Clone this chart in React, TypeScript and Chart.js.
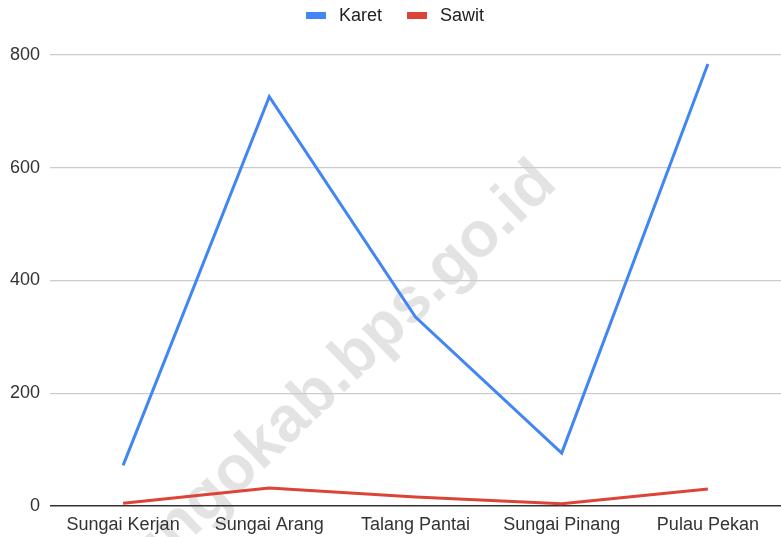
import React, { useEffect, useRef } from "react";
import { Chart, registerables } from "chart.js";

Chart.register(...registerables);

const categories = ["Sungai Kerjan", "Sungai Arang", "Talang Pantai", "Sungai Pinang", "Pulau Pekan"];
const karet = [72, 726, 335, 94, 784];
const sawit = [5, 32, 16, 4, 30];
const yTicks = [0, 200, 400, 600, 800];
const watermarkText = "bungokab.bps.go.id";

const FONT = "Arial, 'Liberation Sans', sans-serif";

const watermark = {
  id: "watermark",
  beforeDraw(chart: any) {
    const ctx = chart.ctx;
    ctx.save();
    ctx.translate(559, 186);
    ctx.rotate(-Math.PI / 4 + 0.02);
    ctx.font = `bold 64px ${FONT}`;
    ctx.fillStyle = "rgba(0,0,0,0.11)";
    ctx.textAlign = "right";
    ctx.textBaseline = "alphabetic";
    ctx.fillText(watermarkText, 0, 0);
    ctx.restore();
  },
};

const customLegend = {
  id: "customLegend",
  afterDraw(chart: any) {
    const ctx = chart.ctx;
    ctx.save();
    ctx.font = `18px ${FONT}`;
    ctx.textBaseline = "middle";
    const boxW = 20, boxH = 7, gapBox = 13, gapItem = 25;
    const items = chart.data.datasets.map((d: any) => ({ label: d.label, color: d.borderColor, w: ctx.measureText(d.label).width }));
    const total = items.reduce((s: number, it: any) => s + boxW + gapBox + it.w, 0) + gapItem * (items.length - 1);
    let x = Math.round((chart.width - total) / 2) + 5;
    const cy = 15;
    for (const it of items) {
      ctx.fillStyle = it.color;
      ctx.fillRect(x, cy - 3, boxW, boxH);
      x += boxW + gapBox;
      ctx.fillStyle = "#222";
      ctx.fillText(it.label, x, cy + 1);
      x += it.w + gapItem;
    }
    ctx.restore();
  },
};

export default function App() {
  const ref = useRef<HTMLCanvasElement>(null);
  useEffect(() => {
    document.body.style.margin = "0";
    const chart = new Chart(ref.current!, {
      type: "line",
      data: {
        labels: categories,
        datasets: [
          { label: "Karet", data: karet, borderColor: "#4285F4", backgroundColor: "#4285F4", borderWidth: 3, pointRadius: 0, tension: 0 },
          { label: "Sawit", data: sawit, borderColor: "#DB4437", backgroundColor: "#DB4437", borderWidth: 3, pointRadius: 0, tension: 0 },
        ],
      },
      options: {
        responsive: false,
        animation: false,
        layout: { padding: { top: 55, right: 0, left: 0, bottom: 0 } },
        plugins: {
          legend: { display: false },
          tooltip: { enabled: false },
        },
        scales: {
          x: {
            offset: true,
            grid: { display: false, drawTicks: false },
            border: { display: false },
            ticks: { font: { family: FONT, size: 18 }, color: "#333", padding: 8, maxRotation: 0 },
            afterFit(s: any) { s.height = 31; },
          },
          y: {
            min: 0,
            max: 800,
            afterBuildTicks(s: any) { s.ticks = yTicks.map((v) => ({ value: v })); },
            grid: {
              drawTicks: false,
              color: (c: any) => (c.tick && c.tick.value === 0 ? "#333" : "#cccccc"),
              lineWidth: (c: any) => (c.tick && c.tick.value === 0 ? 1.5 : 1.2),
            },
            border: { display: false },
            ticks: { font: { family: FONT, size: 18 }, color: "#333", padding: 10 },
            afterFit(s: any) { s.width = 50; },
          },
        },
      },
      plugins: [watermark, customLegend],
    });
    return () => chart.destroy();
  }, []);
  return <canvas ref={ref} width={781} height={537} style={{ display: "block" }} />;
}
